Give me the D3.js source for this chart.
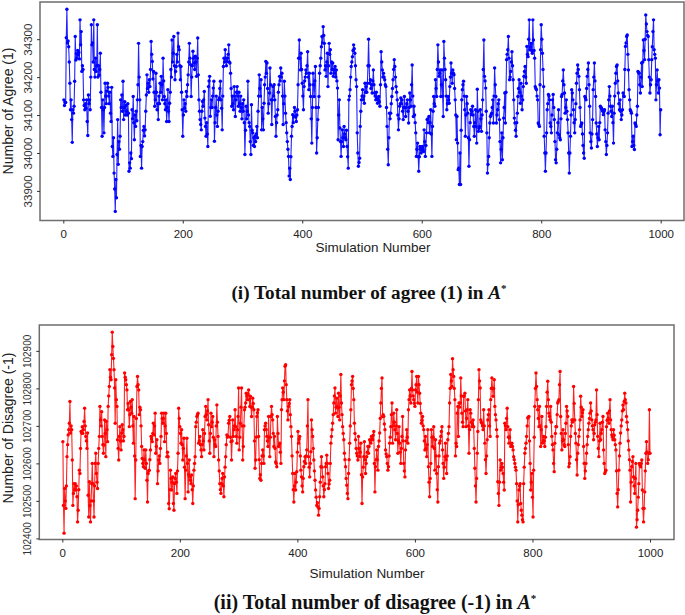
<!DOCTYPE html>
<html>
<head>
<meta charset="utf-8">
<script src="https://cdn.jsdelivr.net/npm/d3@7"></script>
<style>
  html, body { margin: 0; padding: 0; background: #ffffff; }
  svg { display: block; }
</style>
</head>
<body>
<script>
// ---------------- DATA ----------------
const xTicks = [0, 200, 400, 600, 800, 1000];
const agreeTicks = [33900, 34000, 34100, 34200, 34300];
const disagreeTicks = [102400, 102500, 102600, 102700, 102800, 102900];

const agreeYLabel = "Number of Agree (1)";
const disagreeYLabel = "Number of Disagree (-1)";
const xLabel = "Simulation Number";
const agreeTitle = "(i) Total number of agree (1) in ";
const disagreeTitle = "(ii) Total number of disagree (-1) in ";

const agree = [
34140,34125,34133,34133,34304,34379,34290,34295,34280,34240,
34184,34114,34140,34088,34028,34114,34105,34123,34189,34307,
34245,34262,34250,34270,34258,34265,34248,34351,34285,34320,
34215,34230,34220,34140,34125,34114,34130,34118,34140,34083,
34046,34153,34130,34140,34114,34200,34338,34285,34290,34240,
34351,34220,34200,34250,34215,34230,34338,34200,34230,34205,
34220,34263,34160,34120,34044,34140,34114,34053,34120,34184,
34150,34130,34163,34184,34173,34150,34130,34160,34105,34083,
34173,34017,33991,34040,33947,33905,33846,33930,33882,33996,
34088,33970,34030,34010,34044,34140,34120,34153,34110,34189,
34088,34120,34135,34100,34125,34110,34100,34130,34105,33952,
33974,33960,34000,33985,34114,34090,34149,34080,34035,34100,
34070,34110,34085,34140,34180,34289,34200,34140,33991,34020,
33960,34017,34030,34060,34070,34045,34061,34110,34153,34206,
34170,34184,34160,34193,34175,34220,34294,34260,34241,34195,
34215,34160,34123,34140,34210,34160,34114,34130,34088,34150,
34130,34184,34160,34202,34180,34140,34250,34190,34149,34130,
34114,34140,34083,34120,34167,34110,34083,34131,34160,34220,
34200,34298,34240,34263,34307,34230,34193,34215,34228,34260,
34240,34316,34280,34272,34230,34193,34228,34160,34114,34044,
34100,34140,34118,34130,34110,34162,34149,34180,34206,34240,
34289,34250,34233,34149,34200,34230,34268,34250,34237,34220,
34255,34240,34202,34250,34303,34206,34140,34110,34088,34075,
34061,34110,34136,34123,34140,34162,34092,34070,34044,34080,
34050,34017,34175,34190,34202,34097,34120,34140,34120,34150,
34171,34189,34031,34080,34120,34150,34100,34070,34110,34140,
34145,34170,34189,34140,34118,34061,34150,34228,34250,34240,
34272,34250,34230,34241,34250,34260,34285,34240,34237,34210,
34170,34123,34150,34130,34114,34175,34150,34096,34140,34160,
34175,34150,34123,34160,34130,34110,34150,34120,34090,34130,
34110,34140,34080,33996,34060,34123,34090,34110,34189,34100,
34080,34070,34030,33996,34127,34060,34053,34020,34040,34017,
34045,34030,34050,34070,34040,34110,34150,34206,34170,34150,
34193,34061,34120,34090,34061,34131,34180,34200,34241,34210,
34237,34170,34105,34130,34158,34224,34180,34140,34075,34140,
34175,34150,34180,34140,34096,34044,34080,34100,34114,34160,
34180,34202,34190,34224,34200,34210,34150,34075,34130,34189,
34150,34105,34080,34053,34030,34010,33991,33939,33960,33930,
33990,34044,34070,34101,34080,34096,34120,34110,34095,34083,
34100,34114,34180,34250,34298,34250,34219,34263,34220,34184,
34150,34114,34175,34190,34200,34219,34210,34230,34267,34200,
34167,34210,34180,34149,34090,34026,34120,34210,34180,34149,
34190,34228,34120,34000,34040,34088,34120,34149,34210,34230,
34250,34280,34307,34290,34333,34310,34289,34219,34230,34202,
34240,34263,34175,34230,34289,34260,34272,34210,34240,34220,
34237,34202,34220,34210,34228,34200,34219,34190,34171,34035,
34100,34140,34066,34030,33991,34030,34061,34040,34017,34070,
34050,34040,34035,34060,34017,33990,33960,34140,34150,34167,
34200,34228,34240,34254,34270,34285,34275,34263,34230,34193,
34175,34053,34000,33965,33975,33986,34070,34110,34140,34150,
34167,34140,34150,34131,34184,34160,34175,34160,34184,34230,
34300,34230,34184,34193,34170,34180,34158,34190,34219,34180,
34158,34150,34140,34160,34145,34131,34140,34149,34135,34123,
34180,34267,34240,34219,34200,34210,34200,34193,34180,34175,
34120,34070,34010,33969,34040,34105,34090,34105,34130,34149,
34170,34193,34220,34246,34228,34200,34175,34160,34140,34100,
34061,34090,34123,34130,34145,34130,34140,34110,34088,34120,
34149,34120,34096,34120,34130,34140,34110,34079,34120,34158,
34140,34123,34180,34232,34150,34096,34123,34100,34080,34053,
33991,34010,34026,33990,33952,33990,34017,34010,34000,34010,
34017,34010,34004,34061,34030,33991,34020,34053,34088,34090,
34080,34096,34053,34080,34114,34050,33991,34070,34110,34149,
34130,34123,34193,34170,34149,34220,34285,34240,34202,34210,
34219,34149,34180,34219,34150,34096,34294,34250,34220,34193,
34150,34114,34130,34149,34140,34131,34175,34200,34237,34210,
34184,34219,34210,34206,34170,34140,34100,34035,34096,34026,
33956,33960,33917,34000,33917,34060,34140,34167,34180,34189,
34150,34114,34044,34100,34149,34130,34105,34040,33965,34035,
34080,34114,34101,34110,34123,34100,34070,34044,34080,34114,
34070,34026,34168,34110,34057,34065,34070,34114,34090,34057,
34100,34140,34220,34298,34202,34190,34171,34110,34053,33947,
33970,33991,34040,34079,34096,34100,34105,34120,34140,34079,
34150,34224,34180,34149,34079,34100,34114,34130,34140,34088,
34030,33974,34010,34053,33982,34040,34092,34120,34158,34079,
34160,34246,34260,34272,34307,34250,34193,34200,34215,34240,
34267,34230,34193,34140,34092,34079,34060,34044,34080,34105,
34149,34170,34193,34160,34131,34184,34150,34114,34140,34175,
34202,34215,34228,34200,34184,34281,34260,34254,34300,34351,
34272,34280,34289,34270,34263,34351,34298,34270,34250,34175,
34170,34167,34150,34140,34079,34075,34070,34180,34272,34338,
34300,34263,34220,34175,34044,34000,33952,34000,34053,34114,
34130,34154,34150,34140,34079,34070,34053,34100,34140,34154,
34120,34088,34030,33982,33974,34010,34053,34080,34114,34048,
34040,34035,34090,34149,34154,34190,34219,34180,34158,34105,
34120,34140,34110,34088,34053,34000,33947,34000,34044,34100,
34167,34158,34140,34114,34080,34053,34088,34130,34184,34210,
34232,34220,34202,34167,34120,34070,34075,34079,34050,34020,
34000,33986,34149,34145,34140,34170,34202,34220,34237,34180,
34123,34053,34030,34013,34050,34088,34167,34200,34237,34190,
34149,34079,34050,34017,34040,34070,34035,34080,34123,34120,
34118,34114,34110,34101,34110,34114,34061,34030,33996,34020,
34053,34105,34140,34175,34150,34123,34110,34096,34123,34080,
34026,34105,34150,34184,34210,34228,34232,34190,34158,34130,
34114,34140,34110,34088,34100,34114,34158,34150,34149,34220,
34281,34290,34307,34311,34260,34219,34167,34140,34114,34110,
34105,34017,34030,34044,34020,34009,34079,34075,34070,34100,
34123,34215,34212,34210,34180,34158,34200,34237,34175,34240,
34298,34270,34246,34300,34364,34340,34320,34310,34307,34246,
34200,34158,34180,34193,34246,34280,34320,34351,34272,34260,
34250,34140,34180,34219,34190,34158,34193,34171,34048,34114
];

const disagree = [
102658,102488,102414,102533,102500,102480,102540,102618,102650,102676,
102690,102707,102765,102681,102700,102690,102609,102488,102520,102546,
102529,102546,102529,102540,102511,102444,102475,102530,102582,102573,
102640,102685,102681,102698,102680,102690,102712,102747,102700,102672,
102660,102640,102681,102515,102457,102551,102488,102444,102500,102546,
102600,102546,102500,102457,102540,102600,102627,102573,102550,102533,
102600,102640,102672,102752,102716,102700,102738,102672,102650,102627,
102649,102716,102680,102618,102712,102690,102658,102752,102780,102805,
102850,102830,102823,102890,102950,102912,102880,102850,102801,102707,
102823,102770,102752,102663,102640,102609,102672,102698,102660,102636,
102681,102703,102690,102660,102672,102841,102830,102823,102810,102796,
102743,102760,102743,102698,102730,102765,102750,102734,102770,102700,
102654,102725,102620,102506,102609,102720,102805,102832,102810,102796,
102730,102750,102743,102700,102645,102613,102600,102591,102636,102610,
102587,102636,102600,102555,102497,102573,102580,102582,102610,102636,
102672,102665,102658,102680,102707,102676,102700,102734,102627,102645,
102663,102546,102580,102609,102620,102600,102640,102672,102734,102720,
102707,102720,102734,102658,102700,102734,102680,102618,102630,102618,
102493,102479,102530,102582,102560,102529,102550,102564,102493,102475,
102546,102560,102573,102550,102520,102580,102627,102747,102720,102698,
102680,102654,102690,102650,102609,102640,102667,102590,102506,102582,
102620,102667,102600,102524,102570,102609,102564,102555,102546,102569,
102530,102493,102540,102582,102600,102618,102698,102710,102725,102730,
102734,102654,102660,102672,102650,102636,102618,102650,102690,102660,
102636,102680,102725,102752,102730,102716,102740,102770,102703,102660,
102627,102680,102734,102698,102710,102725,102670,102618,102663,102650,
102645,102700,102756,102710,102672,102609,102580,102546,102530,102520,
102546,102560,102573,102540,102511,102564,102590,102618,102650,102676,
102670,102672,102707,102715,102725,102670,102658,102609,102660,102716,
102672,102690,102700,102743,102698,102672,102654,102690,102725,102801,
102636,102670,102707,102750,102801,102700,102609,102645,102700,102743,
102750,102761,102787,102780,102770,102785,102796,102770,102752,102779,
102750,102725,102750,102774,102760,102743,102660,102587,102609,102670,
102725,102735,102743,102672,102610,102560,102570,102555,102600,102620,
102636,102620,102600,102690,102700,102707,102690,102672,102660,102645,
102725,102670,102618,102670,102725,102752,102730,102716,102680,102645,
102672,102640,102604,102600,102591,102725,102680,102645,102650,102654,
102630,102600,102743,102770,102801,102790,102770,102820,102859,102863,
102810,102770,102740,102716,102752,102760,102770,102730,102698,102672,
102620,102573,102530,102497,102540,102573,102529,102550,102578,102630,
102685,102654,102665,102672,102620,102582,102564,102540,102524,102560,
102591,102605,102618,102600,102620,102636,102700,102770,102618,102590,
102564,102600,102631,102716,102690,102672,102640,102609,102580,102555,
102529,102510,102488,102495,102484,102462,102480,102511,102550,102591,
102618,102590,102564,102540,102511,102530,102546,102591,102600,102622,
102600,102573,102533,102545,102555,102600,102654,102672,102690,102707,
102730,102761,102780,102801,102734,102750,102774,102750,102725,102787,
102750,102716,102780,102837,102761,102730,102698,102680,102663,102627,
102610,102591,102560,102542,102520,102506,102573,102610,102654,102700,
102743,102810,102820,102832,102800,102770,102707,102680,102663,102640,
102627,102620,102609,102672,102640,102618,102630,102654,102570,102493,
102564,102590,102618,102658,102610,102573,102600,102618,102630,102645,
102627,102645,102663,102660,102654,102672,102665,102663,102675,102685,
102600,102524,102591,102610,102636,102610,102582,102645,102660,102681,
102720,102761,102800,102828,102725,102730,102725,102705,102690,102636,
102625,102618,102600,102582,102591,102620,102654,102670,102698,102730,
102761,102654,102700,102734,102710,102690,102663,102700,102743,102680,
102627,102660,102698,102654,102630,102600,102640,102672,102725,102660,
102600,102580,102564,102636,102660,102690,102670,102654,102743,102770,
102796,102780,102761,102800,102845,102796,102780,102770,102760,102752,
102796,102810,102832,102790,102761,102832,102810,102787,102760,102734,
102707,102715,102725,102700,102690,102660,102636,102672,102640,102618,
102650,102690,102591,102550,102511,102560,102600,102690,102670,102645,
102670,102698,102640,102582,102663,102620,102573,102530,102497,102591,
102620,102654,102660,102672,102685,102698,102636,102600,102560,102590,
102618,102654,102610,102573,102620,102663,102680,102698,102761,102800,
102837,102820,102805,102879,102850,102832,102800,102770,102620,102654,
102645,102734,102752,102672,102761,102750,102761,102828,102780,102734,
102710,102698,102779,102780,102787,102740,102698,102720,102743,102770,
102700,102627,102690,102743,102734,102710,102698,102705,102716,102698,
102640,102587,102540,102497,102560,102627,102685,102770,102850,102820,
102801,102716,102710,102707,102700,102690,102743,102700,102654,102610,
102573,102620,102663,102716,102730,102743,102700,102672,102770,102800,
102828,102800,102779,102800,102823,102752,102730,102716,102690,102672,
102551,102520,102488,102550,102609,102582,102590,102600,102590,102573,
102550,102529,102707,102700,102690,102720,102747,102698,102670,102654,
102670,102690,102645,102650,102654,102645,102636,102618,102610,102600,
102590,102582,102546,102500,102444,102490,102529,102540,102546,102493,
102475,102462,102450,102444,102546,102590,102627,102640,102654,102672,
102700,102721,102723,102725,102660,102600,102529,102550,102573,102510,
102457,102582,102670,102752,102800,102841,102805,102770,102743,102720,
102698,102752,102700,102645,102690,102725,102654,102660,102672,102660,
102645,102670,102698,102752,102790,102819,102770,102734,102725,102716,
102752,102710,102672,102650,102636,102600,102578,102654,102680,102698,
102698,102730,102761,102765,102770,102810,102845,102725,102680,102636,
102660,102690,102663,102650,102645,102680,102707,102752,102740,102725,
102650,102591,102600,102618,102672,102700,102716,102710,102716,102805,
102760,102716,102680,102654,102610,102569,102627,102650,102672,102690,
102716,102779,102750,102725,102735,102743,102645,102600,102560,102580,
102600,102627,102650,102672,102690,102707,102720,102734,102761,102740,
102716,102700,102690,102663,102680,102703,102710,102716,102796,102730,
102672,102640,102618,102660,102707,102663,102680,102690,102710,102725,
102636,102600,102573,102578,102582,102698,102715,102734,102720,102707,
102740,102770,102716,102690,102676,102670,102663,102690,102675,102663,
102650,102636,102580,102520,102484,102530,102582,102620,102654,102681,
102700,102716,102740,102756,102743,102765,102787,102770,102761,102725,
102710,102690,102660,102636,102610,102582,102497,102550,102591,102605,
102618,102564,102540,102520,102560,102600,102430,102450,102475,102510,
102546,102600,102595,102591,102600,102609,102529,102480,102444,102480,
102524,102580,102627,102658,102630,102600,102610,102627,102743,102627
];

// ---------------- DRAWING ----------------
const svg = d3.select("body").append("svg")
  .attr("width", 685).attr("height", 615)
  .style("background", "#ffffff");

const SANS = "'Liberation Sans', Arial, Helvetica, sans-serif";
const SERIF = "'Liberation Serif', 'Times New Roman', serif";

function panel(cfg) {
  const g = svg.append("g");
  const x = d3.scaleLinear().domain([0, 1000]).range(cfg.xRange);
  const y = d3.scaleLinear().domain(cfg.yDomain).range([cfg.box.y1, cfg.box.y0]);

  // plot frame
  g.append("rect")
    .attr("x", cfg.box.x0).attr("y", cfg.box.y0)
    .attr("width", cfg.box.x1 - cfg.box.x0).attr("height", cfg.box.y1 - cfg.box.y0)
    .attr("fill", "none").attr("stroke", "#6e6e6e").attr("stroke-width", 1.5);

  // x axis
  const xa = g.append("g").attr("transform", `translate(0,${cfg.box.y1})`)
    .call(d3.axisBottom(x).tickValues(xTicks).tickFormat(d3.format("d")).tickSize(3).tickSizeOuter(0).tickPadding(6));
  xa.select(".domain").remove();
  xa.selectAll("line").attr("stroke", "#333");
  xa.selectAll("text").attr("font-family", SANS).attr("font-size", 11.5).attr("fill", "#222");

  // y axis
  const ya = g.append("g").attr("transform", `translate(${cfg.box.x0},0)`)
    .call(d3.axisLeft(y).tickValues(cfg.yTicks).tickFormat(d3.format("d")).tickSize(3).tickSizeOuter(0));
  ya.select(".domain").remove();
  ya.selectAll("line").attr("stroke", "#333");
  ya.selectAll("text")
    .attr("transform", "rotate(-90)")
    .attr("x", 0).attr("y", -12).attr("dy", "0.35em")
    .attr("text-anchor", "middle")
    .attr("font-family", SANS).attr("font-size", cfg.yTickSize).attr("fill", "#333");

  // series
  const line = d3.line().x((d, i) => x(i + 1)).y(d => y(d));
  g.append("path").datum(cfg.values)
    .attr("d", line).attr("fill", "none")
    .attr("stroke", cfg.lineColor).attr("stroke-width", 1.1).attr("stroke-linejoin", "round");
  g.append("g").selectAll("circle").data(cfg.values).join("circle")
    .attr("cx", (d, i) => x(i + 1)).attr("cy", d => y(d))
    .attr("r", 1.7).attr("fill", cfg.color);

  // axis titles
  g.append("text")
    .attr("transform", `translate(${cfg.yTitle.x},${cfg.yTitle.y}) rotate(-90)`)
    .attr("text-anchor", "middle").attr("dy", "0.35em")
    .attr("font-family", SANS).attr("font-size", 14).attr("fill", "#222")
    .text(cfg.yLabel);
  g.append("text")
    .attr("x", cfg.xTitle.x).attr("y", cfg.xTitle.y)
    .attr("text-anchor", "middle")
    .attr("font-family", SANS).attr("font-size", 13.5).attr("fill", "#222")
    .text(xLabel);

  // caption
  const t = g.append("text")
    .attr("x", cfg.caption.x).attr("y", cfg.caption.y)
    .attr("text-anchor", "middle")
    .attr("font-family", SERIF).attr("font-weight", "bold")
    .attr("font-size", 18).attr("fill", "#111");
  t.append("tspan").text(cfg.captionText);
  t.append("tspan").attr("font-style", "italic").text("A");
  t.append("tspan").attr("dy", -7).attr("font-size", 11).text("*");
  const w = t.node().getBBox().width;
  t.attr("font-size", 18 * cfg.caption.w / w);
}

panel({
  values: agree,
  box: { x0: 40, y0: 2, x1: 684, y1: 220.5 },
  xRange: [63.3, 660.7],
  yDomain: [33822, 34398],
  yTicks: agreeTicks,
  yTickSize: 11.5,
  color: "#0000ff",
  lineColor: "#2222ff",
  yLabel: agreeYLabel,
  yTitle: { x: 8.5, y: 111 },
  xTitle: { x: 373, y: 252 },
  caption: { x: 369, y: 298.5, w: 276 },
  captionText: agreeTitle
});

panel({
  values: disagree,
  box: { x0: 39.3, y0: 325, x1: 674, y1: 539.5 },
  xRange: [62.3, 650],
  yDomain: [102397, 102969],
  yTicks: disagreeTicks,
  yTickSize: 10,
  color: "#ff0000",
  lineColor: "#ff2222",
  yLabel: disagreeYLabel,
  yTitle: { x: 8.5, y: 428 },
  xTitle: { x: 367, y: 578 },
  caption: { x: 375, y: 608.5, w: 324 },
  captionText: disagreeTitle
});
</script>
</body>
</html>
